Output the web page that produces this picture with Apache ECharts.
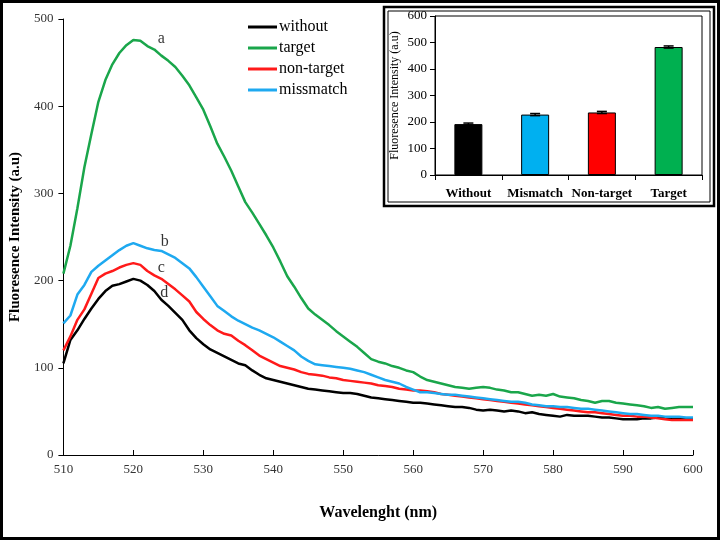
<!DOCTYPE html>
<html><head><meta charset="utf-8">
<script src="https://cdn.jsdelivr.net/npm/echarts@6/dist/echarts.min.js"></script>
<style>html,body{margin:0;padding:0;background:#fff}#c{width:720px;height:540px}</style>
</head><body><div id="c"></div>
<script>
const wavelength = [510,511,512,513,514,515,516,517,518,519,520,521,522,523,524,525,526,527,528,529,530,531,532,533,534,535,536,537,538,539,540,541,542,543,544,545,546,547,548,549,550,551,552,553,554,555,556,557,558,559,560,561,562,563,564,565,566,567,568,569,570,571,572,573,574,575,576,577,578,579,580,581,582,583,584,585,586,587,588,589,590,591,592,593,594,595,596,597,598,599,600];
const withoutVals = [105,132,143,156,168,179,188,194,196,199,202,200,195,188,178,171,163,155,143,134,127,121,117,113,109,105,103,97,92,88,86,84,82,80,78,76,75,74,73,72,71,71,70,68,66,65,64,63,62,61,60,60,59,58,57,56,55,55,54,52,51,52,51,50,51,50,48,49,47,46,45,44,46,45,45,45,44,43,43,42,41,41,41,42,42,43,42,41,41,41,41];
const targetVals = [208,240,283,330,368,405,430,448,461,470,476,475,469,465,458,452,445,435,424,410,396,377,357,342,326,308,290,278,265,252,238,222,205,193,180,168,161,155,149,142,136,130,124,117,110,107,105,102,100,97,95,90,86,84,82,80,78,77,76,77,78,77,75,74,72,72,70,68,69,68,70,67,66,65,63,62,60,62,62,60,59,58,57,56,54,55,53,54,55,55,55];
const nonTargetVals = [120,136,155,167,185,203,208,211,215,218,220,218,211,206,202,196,190,183,176,164,156,149,143,139,137,131,126,120,114,110,106,102,100,98,95,93,92,91,89,88,86,85,84,83,82,80,79,78,76,75,74,74,73,72,70,69,68,67,66,65,64,63,62,61,60,59,58,57,56,55,54,53,52,51,50,49,49,48,47,46,45,45,44,44,43,42,41,40,40,40,40];
const mismatchVals = [151,160,184,195,210,217,223,229,235,240,243,240,237,235,234,230,226,220,214,204,193,182,171,165,159,154,150,146,143,139,135,130,125,120,113,108,104,103,102,101,100,99,97,95,92,89,86,84,82,78,75,72,72,71,70,69,69,68,67,66,65,64,63,62,61,61,60,58,57,56,56,55,55,54,53,53,52,51,50,49,48,47,47,46,45,45,44,44,44,43,43];
const seriesNames = ['without','target','non-target','missmatch'];
const seriesColors = ['#000000','#1aa64b','#ff1a1a','#1ea9f0'];
const curveLabels = ['a','b','c','d'];
const curveLabelX = [524,524.5,524,524.4];
const curveLabelY = [477,244,215,186];

const insetCategories = ['Without','Mismatch','Non-target','Target'];
const insetVals = [192,228,236,483];
const insetErr = [4,4,4,4];
const insetColors = ['#000000','#00b0f0','#ff0000','#00b050'];

const serif = 'Liberation Serif, Times New Roman, serif';
const chart = echarts.init(document.getElementById('c'));
const allVals = [withoutVals, targetVals, nonTargetVals, mismatchVals];

const lineSeries = seriesNames.map((n, i) => ({
  name: n, type: 'line', xAxisIndex: 0, yAxisIndex: 0,
  data: wavelength.map((w, k) => [w, allVals[i][k]]),
  showSymbol: false, symbol: 'none', smooth: false,
  lineStyle: {color: seriesColors[i], width: 2.5},
  itemStyle: {color: seriesColors[i]},
  z: 3
}));

chart.setOption({
  animation: false,
  backgroundColor: '#fff',
  textStyle: {fontFamily: serif},
  legend: {
    data: seriesNames, orient: 'vertical', left: 243, top: 14,
    icon: 'rect', itemWidth: 29, itemHeight: 3, itemGap: 5,
    textStyle: {fontFamily: serif, fontSize: 16, color: '#000', padding: [0,0,0,-3]}
  },
  grid: [
    {left: 58, right: 27, top: 19, bottom: 85},
    {left: 435, right: 18, top: 16, bottom: 365, show: true, borderColor: '#000', borderWidth: 1, backgroundColor: '#fff', z: 5}
  ],
  xAxis: [
    {type: 'value', gridIndex: 0, min: 510, max: 600, interval: 10,
     name: 'Wavelenght (nm)', nameLocation: 'middle', nameGap: 50,
     nameTextStyle: {fontFamily: serif, fontSize: 16, fontWeight: 'bold', color: '#000'},
     axisLine: {lineStyle: {color: '#000', width: 1}},
     axisTick: {inside: true, length: 5, lineStyle: {color: '#000'}},
     axisLabel: {fontFamily: serif, fontSize: 13, color: '#333', margin: 8},
     splitLine: {show: false}},
    {type: 'category', gridIndex: 1, data: insetCategories, boundaryGap: true,
     axisLine: {lineStyle: {color: '#000', width: 1}},
     axisTick: {show: true, interval: 0, alignWithLabel: false, length: 5, lineStyle: {color: '#000'}},
     axisLabel: {interval: 0, fontFamily: serif, fontSize: 13, fontWeight: 'bold', color: '#000', margin: 12},
     z: 6}
  ],
  yAxis: [
    {type: 'value', gridIndex: 0, min: 0, max: 500, interval: 100,
     name: 'Fluoresence Intensity (a.u)', nameLocation: 'middle', nameGap: 33,
     nameTextStyle: {fontFamily: serif, fontSize: 15, fontWeight: 'bold', color: '#000'},
     axisLine: {show: true, lineStyle: {color: '#000', width: 1}},
     axisTick: {show: true, length: 5, lineStyle: {color: '#000'}},
     axisLabel: {fontFamily: serif, fontSize: 13, color: '#333', margin: 10},
     splitLine: {show: false}},
    {type: 'value', gridIndex: 1, min: 0, max: 600, interval: 100,
     name: 'Fluoresence Intensity (a.u)', nameLocation: 'middle', nameGap: 34,
     nameTextStyle: {fontFamily: serif, fontSize: 12, color: '#000'},
     axisLine: {show: true, lineStyle: {color: '#000', width: 1}},
     axisTick: {show: true, length: 5, lineStyle: {color: '#000'}},
     axisLabel: {fontFamily: serif, fontSize: 13, color: '#000', margin: 8},
     splitLine: {show: false}, z: 6}
  ],
  graphic: [
    {type: 'rect', shape: {x: 1.5, y: 1.5, width: 717, height: 537}, style: {fill: 'none', stroke: '#000', lineWidth: 3}, z: 100},
    {type: 'rect', shape: {x: 384, y: 7, width: 330, height: 199}, style: {fill: '#fff', stroke: '#000', lineWidth: 2.5}, z: 1},
    {type: 'rect', shape: {x: 388, y: 11, width: 322, height: 191}, style: {fill: 'none', stroke: '#000', lineWidth: 1}, z: 1}
  ],
  series: lineSeries.concat([
    {type: 'scatter', xAxisIndex: 0, yAxisIndex: 0, symbolSize: 1,
     itemStyle: {color: 'rgba(0,0,0,0)'},
     data: curveLabels.map((t, i) => [curveLabelX[i], curveLabelY[i], t]),
     label: {show: true, position: 'inside', formatter: p => p.value[2], fontFamily: serif, fontSize: 16, color: '#000'},
     z: 4, silent: true},
    {type: 'bar', xAxisIndex: 1, yAxisIndex: 1, barWidth: 28,
     data: insetVals.map((v, i) => ({value: v, itemStyle: {color: insetColors[i], borderColor: '#000', borderWidth: 1}})),
     z: 7},
    {type: 'custom', xAxisIndex: 1, yAxisIndex: 1, z: 8,
     data: insetVals.map((v, i) => [i, v - insetErr[i], v + insetErr[i]]),
     renderItem: (params, api) => {
       const lo = api.coord([api.value(0), api.value(1)]);
       const hi = api.coord([api.value(0), api.value(2)]);
       const hw = 5;
       const st = {stroke: '#000', lineWidth: 1.5};
       return {type: 'group', children: [
         {type: 'line', shape: {x1: hi[0], y1: hi[1], x2: lo[0], y2: lo[1]}, style: st},
         {type: 'line', shape: {x1: hi[0]-hw, y1: hi[1], x2: hi[0]+hw, y2: hi[1]}, style: st},
         {type: 'line', shape: {x1: lo[0]-hw, y1: lo[1], x2: lo[0]+hw, y2: lo[1]}, style: st}
       ]};
     }}
  ])
});
</script></body></html>
